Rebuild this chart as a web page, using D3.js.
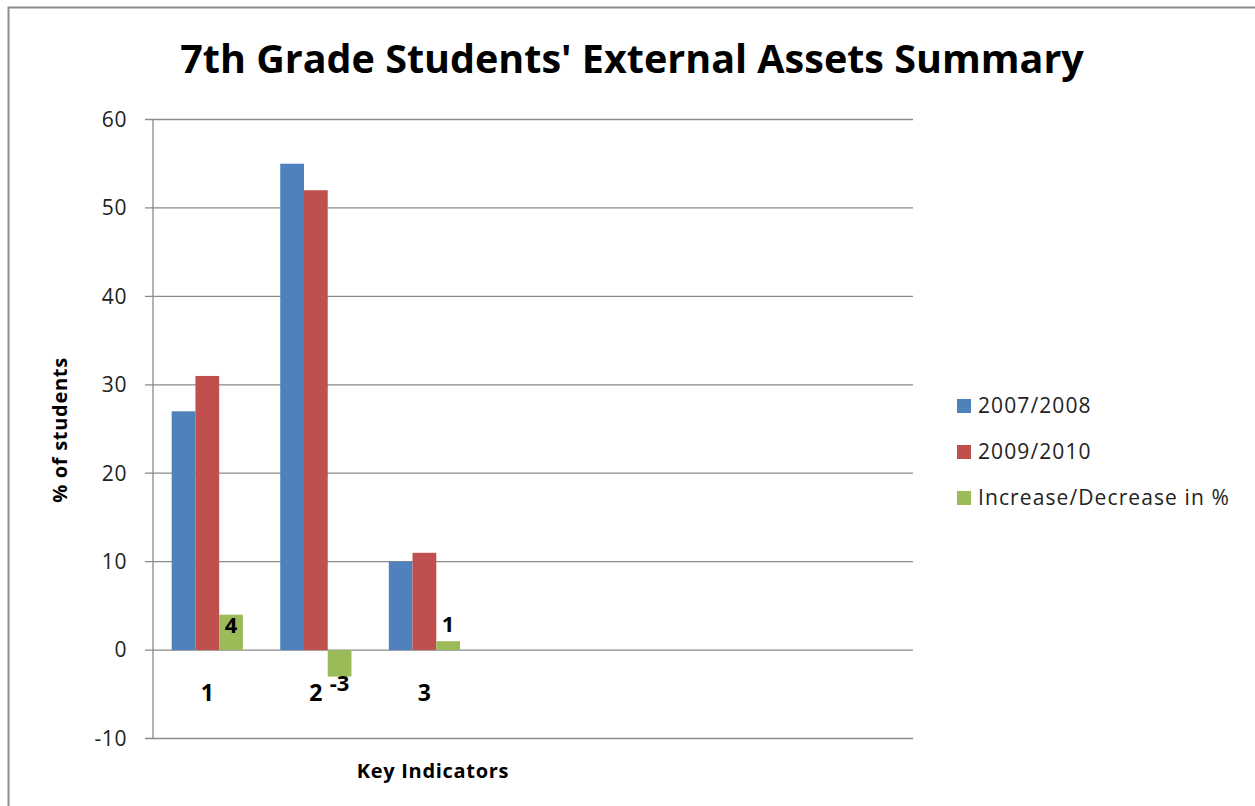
<!DOCTYPE html>
<html>
<head>
<meta charset="utf-8">
<script src="https://cdn.jsdelivr.net/npm/d3@7"></script>
<style>
  body { margin: 0; background: #fff; }
  svg text { font-family: "Open Sans", "Lato", sans-serif; fill: #000; }
</style>
</head>
<body>
<div id="chart"></div>
<script>
// chart values
var categories = ["1", "2", "3", "", "", "", ""];
var seriesNames = ["2007/2008", "2009/2010", "Increase/Decrease in %"];
var values2007 = [27, 55, 10];
var values2009 = [31, 52, 11];
var valuesChange = [4, -3, 1];
var yTicks = [-10, 0, 10, 20, 30, 40, 50, 60];
var colors = ["#4F81BD", "#C0504D", "#9BBB59"];

drawChart();

function drawChart() {
    var W = 1255, H = 806;
    var margin = { top: 119.5, left: 153 },
        width = 760,
        height = 619;

    var svg = d3.select("#chart").append("svg")
        .attr("width", W)
        .attr("height", H);

    // outer chart border (only top/left visible in frame)
    svg.append("rect")
        .attr("x", 8.5).attr("y", 7.5)
        .attr("width", W + 20).attr("height", H + 20)
        .attr("fill", "none")
        .attr("stroke", "#8c8c8c")
        .attr("stroke-width", 2);

    svg.append("text")
        .attr("x", 632).attr("y", 73)
        .attr("text-anchor", "middle")
        .style("font-size", "39.5px")
        .style("font-weight", "bold")
        .text("7th Grade Students' External Assets Summary");

    var g = svg.append("g")
        .attr("transform", "translate(" + margin.left + "," + margin.top + ")");

    var x0 = d3.scaleBand()
        .domain(categories.map(function (d, i) { return i; }))
        .range([0, width]);

    var gap = x0.bandwidth() * 0.172;
    var x1 = d3.scaleBand()
        .domain([0, 1, 2])
        .range([gap, x0.bandwidth() - gap]);

    var y = d3.scaleLinear()
        .domain([-10, 60])
        .range([height, 0]);

    // gridlines
    g.selectAll(".grid")
        .data(yTicks)
        .enter().append("line")
        .attr("x1", -8).attr("x2", width)
        .attr("y1", function (d) { return y(d); })
        .attr("y2", function (d) { return y(d); })
        .attr("stroke", "#8a8a8a")
        .attr("stroke-width", 1.3);

    // y axis line
    g.append("line")
        .attr("x1", 0).attr("x2", 0)
        .attr("y1", y(60)).attr("y2", y(-10))
        .attr("stroke", "#8a8a8a")
        .attr("stroke-width", 1.3);

    g.selectAll(".ylab")
        .data(yTicks)
        .enter().append("text")
        .attr("x", -26)
        .attr("y", function (d) { return y(d); })
        .attr("dy", "0.35em")
        .attr("text-anchor", "end")
        .style("font-size", "21px")
        .style("letter-spacing", "0.6px")
        .style("fill", "#222")
        .text(function (d) { return d; });

    // bars
    var series = [values2007, values2009, valuesChange];
    series.forEach(function (vals, s) {
        g.selectAll(".bar" + s)
            .data(vals)
            .enter().append("rect")
            .attr("x", function (d, i) { return x0(i) + x1(s); })
            .attr("width", x1.bandwidth())
            .attr("y", function (d) { return y(Math.max(d, 0)); })
            .attr("height", function (d) { return Math.abs(y(d) - y(0)); })
            .attr("fill", colors[s]);
    });

    // data labels on change series
    var labelDy = [18, 14, -9];
    g.selectAll(".dlab")
        .data(valuesChange)
        .enter().append("text")
        .attr("x", function (d, i) { return x0(i) + x1(2) + x1.bandwidth() / 2; })
        .attr("y", function (d, i) { return y(d) + labelDy[i]; })
        .attr("text-anchor", "middle")
        .style("font-size", "22px")
        .style("font-weight", "bold")
        .text(function (d) { return d; });

    // category labels
    g.selectAll(".xlab")
        .data(categories)
        .enter().append("text")
        .attr("x", function (d, i) { return x0(i) + x0.bandwidth() / 2; })
        .attr("y", y(0) + 51)
        .attr("text-anchor", "middle")
        .style("font-size", "23px")
        .style("font-weight", "bold")
        .text(function (d) { return d; });

    // axis titles
    svg.append("text")
        .attr("transform", "translate(67,430) rotate(-90)")
        .attr("text-anchor", "middle")
        .style("font-size", "20px")
        .style("letter-spacing", "0.7px")
        .style("font-weight", "bold")
        .text("% of students");

    svg.append("text")
        .attr("x", 433).attr("y", 778)
        .attr("text-anchor", "middle")
        .style("font-size", "20px")
        .style("letter-spacing", "0.7px")
        .style("font-weight", "bold")
        .text("Key Indicators");

    // legend
    var legend = svg.append("g")
        .attr("transform", "translate(957,406)");
    var item = legend.selectAll(".leg")
        .data(seriesNames)
        .enter().append("g")
        .attr("transform", function (d, i) { return "translate(0," + i * 46 + ")"; });
    item.append("rect")
        .attr("x", 0).attr("y", -7)
        .attr("width", 14).attr("height", 14)
        .attr("fill", function (d, i) { return colors[i]; });
    item.append("text")
        .attr("x", 21).attr("y", 0)
        .attr("dy", "0.35em")
        .style("font-size", "21px")
        .style("letter-spacing", "1.1px")
        .style("fill", "#222")
        .text(function (d) { return d; });
}
</script>
</body>
</html>
